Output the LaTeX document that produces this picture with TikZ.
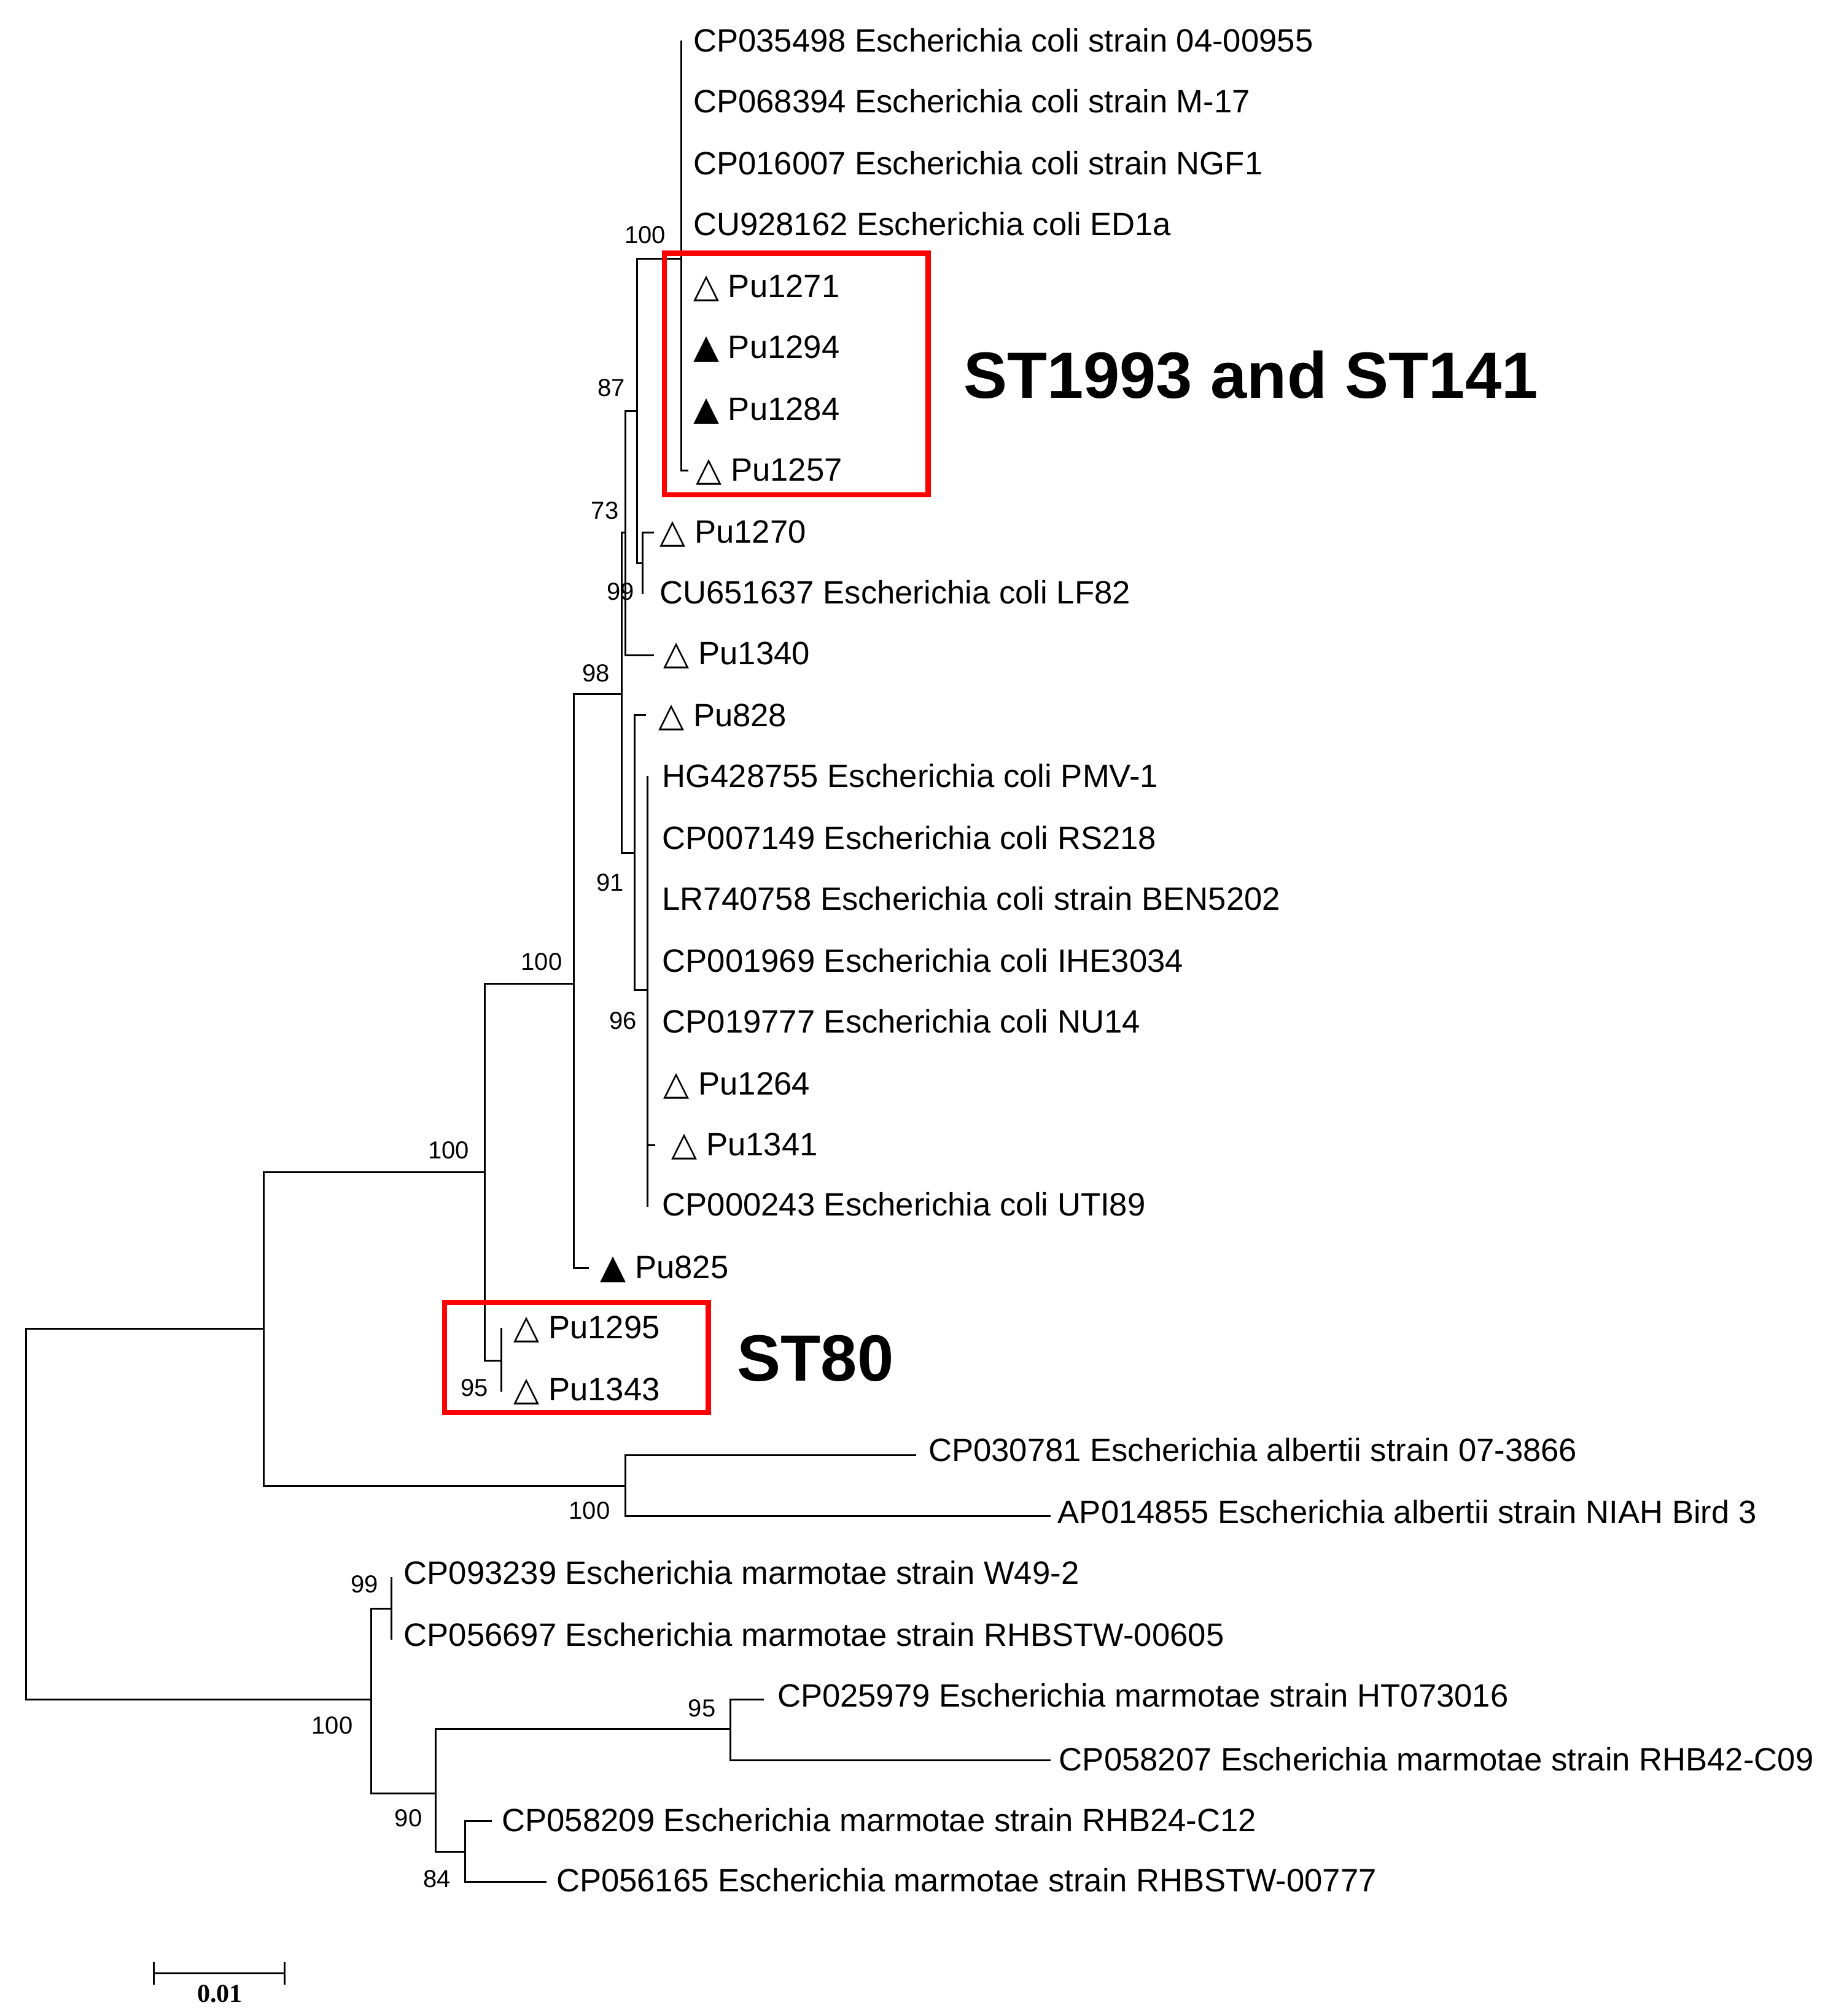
\documentclass[tikz,border=0pt]{standalone}
\usepackage{fontspec}
\setmainfont{Liberation Sans}
\newfontfamily\symf{DejaVu Sans}
\newfontfamily\bsf{Liberation Serif}
\newcommand{\wt}{{\symf\fontsize{13}{13}\selectfont △}}
\newcommand{\bt}{{\symf\fontsize{13}{13}\selectfont ▲}}
\begin{document}
\begin{tikzpicture}[x=0.5pt,y=-0.5pt,
  br/.style={line width=0.7pt,line cap=rect},
  tiplab/.style={anchor=base west,inner sep=0pt,font=\fontsize{12.5}{12.5}\selectfont},
  boot/.style={inner sep=0pt,font=\fontsize{9.5}{9.5}\selectfont},
  redbox/.style={draw=red,line width=2pt},
  big/.style={inner sep=0pt,font=\bfseries\fontsize{25.3}{25.3}\selectfont}]
\useasboundingbox (0,0) rectangle (1420,1560);
% tip labels
\newcommand{\tip}[4]{\node[tiplab] (#1) at (#2,#3+8) {#4};}
\tip{t1}{536}{32}{CP035498 Escherichia coli strain 04-00955}
\tip{t2}{536}{79}{CP068394 Escherichia coli strain M-17}
\tip{t3}{536}{127}{CP016007 Escherichia coli strain NGF1}
\tip{t4}{536}{174}{CU928162 Escherichia coli ED1a}
\tip{t5}{536}{222}{\wt\ Pu1271}
\tip{t6}{536}{269}{\bt\ Pu1294}
\tip{t7}{536}{317}{\bt\ Pu1284}
\tip{t8}{538}{364}{\wt\ Pu1257}
\tip{t9}{510}{412}{\wt\ Pu1270}
\tip{t10}{510}{459}{CU651637 Escherichia coli LF82}
\tip{t11}{513}{506}{\wt\ Pu1340}
\tip{t12}{509}{554}{\wt\ Pu828}
\tip{t13}{512}{601}{HG428755 Escherichia coli PMV-1}
\tip{t14}{512}{649}{CP007149 Escherichia coli RS218}
\tip{t15}{512}{696}{LR740758 Escherichia coli strain BEN5202}
\tip{t16}{512}{744}{CP001969 Escherichia coli IHE3034}
\tip{t17}{512}{791}{CP019777 Escherichia coli NU14}
\tip{t18}{513}{839}{\wt\ Pu1264}
\tip{t19}{519}{886}{\wt\ Pu1341}
\tip{t20}{512}{933}{CP000243 Escherichia coli UTI89}
\tip{t21}{464}{981}{\bt\ Pu825}
\tip{t22}{397}{1028}{\wt\ Pu1295}
\tip{t23}{397}{1076}{\wt\ Pu1343}
\tip{t24}{718}{1123}{CP030781 Escherichia albertii strain 07-3866}
\tip{t25}{818}{1171}{AP014855 Escherichia albertii strain NIAH Bird 3}
\tip{t26}{312}{1218}{CP093239 Escherichia marmotae strain W49-2}
\tip{t27}{312}{1266}{CP056697 Escherichia marmotae strain RHBSTW-00605}
\tip{t28}{601}{1313}{CP025979 Escherichia marmotae strain HT073016}
\tip{t29}{819}{1362}{CP058207 Escherichia marmotae strain RHB42-C09}
\tip{t30}{388}{1409}{CP058209 Escherichia marmotae strain RHB24-C12}
\tip{t31}{430}{1456}{CP056165 Escherichia marmotae strain RHBSTW-00777}
% branches
\draw[br] (527,32) -- (527,364) -- (532,364);
\draw[br] (527,200) -- (493,200) -- (493,436) -- (497,436);
\draw[br] (505,412) -- (497,412) -- (497,459);
\draw[br] (493,318) -- (484,318) -- (484,507) -- (505,507);
\draw[br] (484,412) -- (481,412);
\draw[br] (481,412) -- (481,660) -- (491,660);
\draw[br] (499,553) -- (491,553) -- (491,766) -- (501,766);
\draw[br] (501,601) -- (501,933);
\draw[br] (501,886) -- (506,886);
\draw[br] (481,537) -- (444,537) -- (444,981) -- (455,981);
\draw[br] (444,761) -- (375,761) -- (375,1053) -- (388,1053);
\draw[br] (388,1028) -- (388,1076);
\draw[br] (375,907) -- (204,907) -- (204,1150) -- (484,1150);
\draw[br] (708,1126) -- (484,1126) -- (484,1173) -- (812,1173);
\draw[br] (204,1028) -- (20,1028) -- (20,1315) -- (287,1315);
\draw[br] (303,1245) -- (287,1245) -- (287,1388) -- (337,1388);
\draw[br] (303,1221) -- (303,1268);
\draw[br] (590,1315) -- (565,1315) -- (565,1362) -- (812,1362);
\draw[br] (565,1338) -- (337,1338) -- (337,1433) -- (360,1433);
\draw[br] (380,1409) -- (360,1409) -- (360,1456) -- (422,1456);
% bootstrap values
\node[boot] (b1) at (499,182) {100};
\node[boot] (b2) at (473,300) {87};
\node[boot] (b3) at (468,395) {73};
\node[boot] (b4) at (480,458) {99};
\node[boot] (b5) at (461,521) {98};
\node[boot] (b6) at (472,683) {91};
\node[boot] (b7) at (482,790) {96};
\node[boot] (b8) at (419,744) {100};
\node[boot] (b9) at (347,890) {100};
\node[boot] (b10) at (367,1074) {95};
\node[boot] (b11) at (456,1169) {100};
\node[boot] (b12) at (282,1226) {99};
\node[boot] (b13) at (257,1335) {100};
\node[boot] (b14) at (543,1322) {95};
\node[boot] (b15) at (316,1407) {90};
\node[boot] (b16) at (338,1454) {84};
% boxes
\draw[redbox] (514,196) rectangle (718,383);
\draw[redbox] (344,1008) rectangle (548,1093);
\node[big,anchor=west] (st1) at (745,290) {ST1993 and ST141};
\node[big,anchor=west] (st2) at (570,1051) {ST80};
% scale bar
\draw[br] (119,1519) -- (119,1535);
\draw[br] (220,1519) -- (220,1535);
\draw[br] (119,1527) -- (220,1527);
\node[inner sep=0pt,font=\bsf\bfseries\fontsize{10}{10}\selectfont] (sc) at (170,1543) {0.01};
\end{tikzpicture}
\end{document}
